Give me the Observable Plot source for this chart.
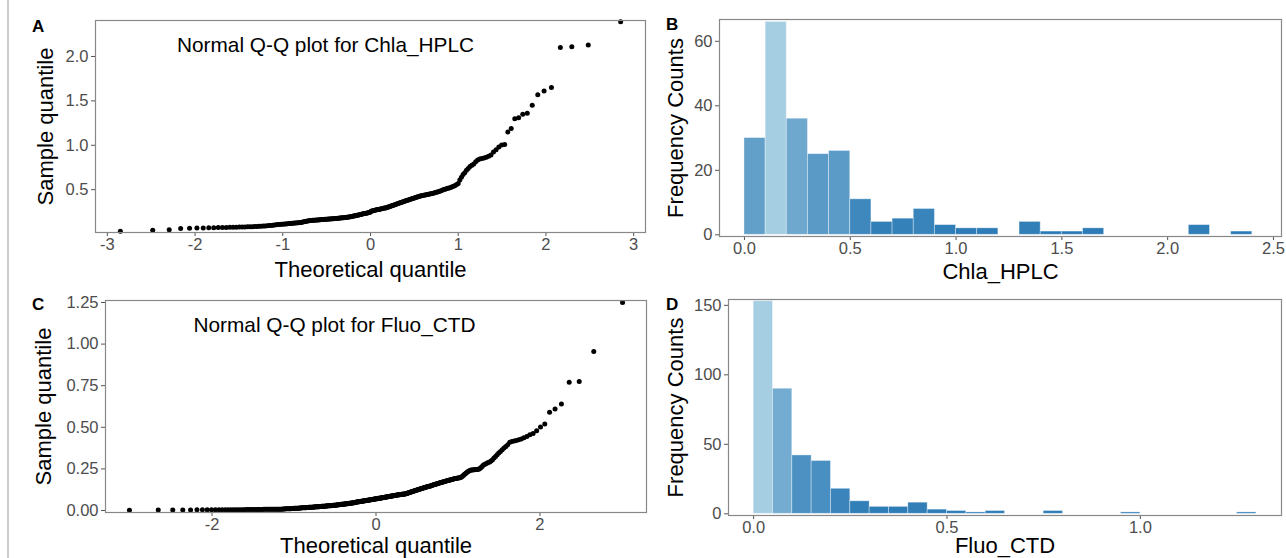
<!DOCTYPE html>
<html>
<head>
<meta charset="utf-8">
<script src="https://cdn.jsdelivr.net/npm/d3@7"></script>
<script src="https://cdn.jsdelivr.net/npm/@observablehq/plot@0.6"></script>
<style>
  html, body { margin: 0; padding: 0; background: #ffffff; }
  #root { position: relative; width: 1286px; height: 558px; overflow: hidden; background: #ffffff;
          font-family: "Liberation Sans", Arial, sans-serif; }
  .panel { position: absolute; }
  .tag { position: absolute; font-weight: bold; font-size: 17px; line-height: 17px; color: #000; }
  #edge { position: absolute; left: 7px; top: 0; width: 1.5px; height: 558px; background: #cccccc; }
  svg g[aria-label="x-axis tick label"], svg g[aria-label="y-axis tick label"],
  svg g[aria-label="x-axis tick label"] text, svg g[aria-label="y-axis tick label"] text { font-size: 16.5px !important; }
</style>
</head>
<body>
<div id="root">
  <div id="edge"></div>
  <div class="panel" id="pA" style="left:0px; top:0px;"></div>
  <div class="panel" id="pB" style="left:650px; top:0px;"></div>
  <div class="panel" id="pC" style="left:0px; top:279px;"></div>
  <div class="panel" id="pD" style="left:650px; top:279px;"></div>
  <div class="tag" style="left:32px; top:18px;">A</div>
  <div class="tag" style="left:666px; top:16px;">B</div>
  <div class="tag" style="left:32px; top:296px;">C</div>
  <div class="tag" style="left:666px; top:296px;">D</div>
</div>
<script>
// ---------------- DATA ----------------
// Sorted sample values of Chla_HPLC (n = 230)
const chlaHPLC = [
  0.033, 0.044, 0.048, 0.062, 0.065, 0.068, 0.070, 0.071, 0.072, 0.073,
  0.074, 0.075, 0.076, 0.077, 0.078, 0.079, 0.080, 0.081, 0.082, 0.083,
  0.084, 0.085, 0.086, 0.087, 0.088, 0.090, 0.092, 0.094, 0.096, 0.098,
  0.101, 0.103, 0.105, 0.107, 0.108, 0.110, 0.111, 0.113, 0.115, 0.117,
  0.118, 0.120, 0.121, 0.123, 0.124, 0.126, 0.127, 0.129, 0.130, 0.132,
  0.135, 0.138, 0.141, 0.144, 0.147, 0.150, 0.152, 0.154, 0.155, 0.156,
  0.157, 0.158, 0.159, 0.160, 0.161, 0.162, 0.163, 0.164, 0.165, 0.166,
  0.167, 0.168, 0.169, 0.170, 0.171, 0.172, 0.173, 0.174, 0.175, 0.176,
  0.177, 0.178, 0.179, 0.180, 0.181, 0.183, 0.184, 0.185, 0.186, 0.188,
  0.189, 0.191, 0.193, 0.194, 0.196, 0.198,
  0.201, 0.203, 0.206, 0.208, 0.211, 0.213, 0.216, 0.218, 0.221, 0.223,
  0.226, 0.228, 0.231, 0.233, 0.236, 0.238, 0.240, 0.243, 0.245,
  0.256, 0.259, 0.262, 0.265, 0.268, 0.271, 0.273, 0.276, 0.278, 0.280,
  0.283, 0.285, 0.288, 0.290, 0.293, 0.295, 0.298,
  0.301, 0.305, 0.309, 0.313, 0.317, 0.321, 0.325, 0.329, 0.333, 0.337,
  0.341, 0.345, 0.349, 0.353, 0.357, 0.361, 0.365, 0.369, 0.373, 0.377,
  0.381, 0.385, 0.389, 0.393, 0.397,
  0.401, 0.405, 0.409, 0.413, 0.417, 0.421, 0.425, 0.428, 0.431, 0.434,
  0.437, 0.440, 0.443, 0.446, 0.449, 0.452, 0.455, 0.458, 0.461, 0.465,
  0.469, 0.473, 0.477, 0.482, 0.488, 0.494,
  0.502, 0.506, 0.510, 0.515, 0.520, 0.526, 0.532, 0.540, 0.548, 0.558, 0.570,
  0.610, 0.640, 0.670, 0.690,
  0.720, 0.740, 0.760, 0.775, 0.790,
  0.815, 0.835, 0.845, 0.850, 0.858, 0.866, 0.876, 0.890,
  0.925, 0.950, 0.980,
  1.002, 1.010,
  1.150, 1.190,
  1.300, 1.310, 1.350, 1.360,
  1.450,
  1.570,
  1.610, 1.650,
  2.100, 2.110, 2.130,
  2.390
];

// Sorted sample values of Fluo_CTD (n = 380)
const fluoCTD = [
  0.002, 0.003, 0.003, 0.003, 0.003, 0.004, 0.004, 0.004, 0.004,
  0.004, 0.004, 0.004, 0.004, 0.005, 0.005, 0.005, 0.005, 0.005, 0.005,
  0.005, 0.005, 0.006, 0.006, 0.006, 0.006, 0.006,
  0.006, 0.006, 0.006, 0.006, 0.006, 0.006, 0.007, 0.007, 0.007, 0.007,
  0.007, 0.007, 0.007, 0.007, 0.008, 0.008, 0.008, 0.008, 0.008, 0.008,
  0.008, 0.008, 0.009, 0.009, 0.009, 0.010, 0.010, 0.010, 0.011, 0.011,
  0.011, 0.012, 0.012, 0.012, 0.013,
  0.013, 0.013, 0.014, 0.014, 0.014, 0.015, 0.015, 0.015, 0.016, 0.016,
  0.016, 0.017, 0.017, 0.017, 0.018, 0.018, 0.018, 0.019, 0.019, 0.019,
  0.020, 0.020, 0.020,
  0.021, 0.021, 0.021, 0.022, 0.022, 0.022, 0.023, 0.023, 0.023, 0.024,
  0.024, 0.024, 0.025, 0.025, 0.025, 0.026, 0.026, 0.026, 0.027, 0.027,
  0.027, 0.028, 0.028, 0.028, 0.029, 0.029, 0.029, 0.030, 0.030, 0.030,
  0.031, 0.031, 0.031, 0.032,
  0.032, 0.033, 0.033, 0.034, 0.034, 0.035, 0.035, 0.036, 0.036, 0.037,
  0.037, 0.038, 0.038, 0.038, 0.039, 0.039, 0.039, 0.040, 0.040,
  0.041, 0.041, 0.042, 0.042, 0.043, 0.043, 0.044, 0.044, 0.045, 0.045,
  0.046, 0.046, 0.047, 0.047, 0.048, 0.049,
  0.050, 0.051, 0.051, 0.052, 0.052, 0.053, 0.053, 0.054, 0.054, 0.055,
  0.055, 0.056, 0.056, 0.057, 0.058, 0.058, 0.059, 0.059, 0.060, 0.060,
  0.061, 0.061, 0.062, 0.062, 0.063, 0.064, 0.064, 0.065, 0.065, 0.066,
  0.066, 0.067, 0.067, 0.068, 0.069, 0.069, 0.070, 0.070, 0.071, 0.071,
  0.072, 0.073, 0.073, 0.074, 0.074, 0.075, 0.075, 0.076, 0.077, 0.077,
  0.078, 0.078, 0.079, 0.080, 0.080, 0.081, 0.081, 0.082, 0.083, 0.083,
  0.084, 0.084, 0.085, 0.086, 0.086, 0.087, 0.087, 0.088, 0.089, 0.089,
  0.090, 0.090, 0.091, 0.092, 0.092, 0.093, 0.093, 0.094, 0.094, 0.095,
  0.095, 0.096, 0.096, 0.097, 0.097, 0.098, 0.098, 0.099, 0.099, 0.099,
  0.101, 0.101, 0.102, 0.104, 0.105, 0.106, 0.107, 0.108, 0.110, 0.111,
  0.112, 0.113, 0.114, 0.116, 0.117, 0.118, 0.119, 0.120, 0.122, 0.123,
  0.124, 0.125, 0.126, 0.128, 0.129, 0.130, 0.131, 0.132, 0.134, 0.135,
  0.136, 0.137, 0.138, 0.140, 0.141, 0.142, 0.143, 0.144, 0.145, 0.146,
  0.147, 0.149,
  0.151, 0.152, 0.153, 0.155, 0.156, 0.157, 0.159, 0.160, 0.161, 0.163,
  0.164, 0.165, 0.167, 0.168, 0.169, 0.171, 0.172, 0.173, 0.175, 0.176,
  0.177, 0.179, 0.180, 0.181, 0.183, 0.184, 0.185, 0.187, 0.188, 0.189,
  0.191, 0.192, 0.193, 0.194, 0.195, 0.196, 0.197, 0.199,
  0.201, 0.206, 0.211, 0.216, 0.221, 0.226, 0.231, 0.235, 0.239, 0.242,
  0.243, 0.244, 0.245, 0.245, 0.246, 0.247, 0.248, 0.249,
  0.255, 0.262, 0.270, 0.276, 0.280, 0.284, 0.288, 0.292, 0.297,
  0.305, 0.315, 0.325, 0.335, 0.345,
  0.355, 0.365, 0.375, 0.385, 0.395,
  0.410, 0.415, 0.418, 0.421, 0.425, 0.430, 0.437, 0.445,
  0.455, 0.462, 0.480,
  0.502, 0.520,
  0.590,
  0.610, 0.640,
  0.770, 0.775,
  0.955,
  1.250
];

// Histogram bin edges
const binsChla = [0, 0.1, 0.2, 0.3, 0.4, 0.5, 0.6, 0.7, 0.8, 0.9, 1.0, 1.1, 1.2, 1.3, 1.4, 1.5,
                  1.6, 1.7, 1.8, 1.9, 2.0, 2.1, 2.2, 2.3, 2.4];
const binsFluo = [0, 0.05, 0.1, 0.15, 0.2, 0.25, 0.3, 0.35, 0.4, 0.45, 0.5, 0.55, 0.6, 0.65, 0.7,
                  0.75, 0.8, 0.85, 0.9, 0.95, 1.0, 1.05, 1.1, 1.15, 1.2, 1.25, 1.3];

// Tick values
const ticksQQA_x = [-3, -2, -1, 0, 1, 2, 3];
const ticksQQA_y = [0.5, 1.0, 1.5, 2.0];
const ticksQQC_x = [-2, 0, 2];
const ticksQQC_y = [0, 0.25, 0.5, 0.75, 1.0, 1.25];
const ticksHistB_x = [0, 0.5, 1.0, 1.5, 2.0, 2.5];
const ticksHistB_y = [0, 20, 40, 60];
const ticksHistD_x = [0, 0.5, 1.0];
const ticksHistD_y = [0, 50, 100, 150];

// Text
const titleA = "Normal Q-Q plot for Chla_HPLC";
const titleC = "Normal Q-Q plot for Fluo_CTD";
const qqXLabel = "Theoretical quantile";
const qqYLabel = "Sample quantile";
const histYLabel = "Frequency Counts";

// ---------------- helpers ----------------
// Inverse standard normal CDF (Acklam) for theoretical quantiles
function qnorm(p) {
  const a = [-3.969683028665376e+01, 2.209460984245205e+02, -2.759285104469687e+02, 1.383577518672690e+02, -3.066479806614716e+01, 2.506628277459239e+00];
  const b = [-5.447609879822406e+01, 1.615858368580409e+02, -1.556989798598866e+02, 6.680131188771972e+01, -1.328068155288572e+01];
  const c = [-7.784894002430293e-03, -3.223964580411365e-01, -2.400758277161838e+00, -2.549732539343734e+00, 4.374664141464968e+00, 2.938163982698783e+00];
  const d = [7.784695709041462e-03, 3.224671290700398e-01, 2.445134137142996e+00, 3.754408661907416e+00];
  const pl = 0.02425, ph = 1 - pl;
  let q, r;
  if (p < pl) {
    q = Math.sqrt(-2 * Math.log(p));
    return (((((c[0]*q+c[1])*q+c[2])*q+c[3])*q+c[4])*q+c[5]) / ((((d[0]*q+d[1])*q+d[2])*q+d[3])*q+1);
  }
  if (p > ph) {
    q = Math.sqrt(-2 * Math.log(1 - p));
    return -(((((c[0]*q+c[1])*q+c[2])*q+c[3])*q+c[4])*q+c[5]) / ((((d[0]*q+d[1])*q+d[2])*q+d[3])*q+1);
  }
  q = p - 0.5; r = q * q;
  return (((((a[0]*r+a[1])*r+a[2])*r+a[3])*r+a[4])*r+a[5])*q / (((((b[0]*r+b[1])*r+b[2])*r+b[3])*r+b[4])*r+1);
}
const qqTable = (vals) => vals.map((v, i) => ({theo: qnorm((i + 0.5) / vals.length), sample: v}));

const FONT = '"Liberation Sans", Arial, sans-serif';
const TICK_FS = 16.5, TITLE_FS = 22, ANNOT_FS = 20.8;
const TICK_TEXT = "#4d4d4d", TICK_LINE = "#555555", FRAME = "#888888";
const DARK = "#2c7bb6", LIGHT = "#a6cee3";

function axes(xt, yt, xfmt, yfmt) {
  return [
    Plot.axisX({ticks: xt, tickFormat: xfmt, tickSize: 4, tickPadding: 2, fontSize: TICK_FS,
                label: null, stroke: TICK_LINE, fill: TICK_TEXT}),
    Plot.axisY({ticks: yt, tickFormat: yfmt, tickSize: 4, tickPadding: 3, fontSize: TICK_FS,
                label: null, stroke: TICK_LINE, fill: TICK_TEXT})
  ];
}
const intFmt = d => String(d);
const plotStyle = {fontFamily: FONT, fontSize: TICK_FS + "px", background: "transparent", overflow: "visible"};

function qqPanel(vals, o) {
  return Plot.plot({
    width: o.width, height: o.height,
    marginLeft: o.ml, marginRight: o.mr, marginTop: o.mt, marginBottom: o.mb,
    style: plotStyle,
    x: {domain: o.xdom},
    y: {domain: o.ydom},
    marks: [
      ...axes(o.xt, o.yt, intFmt, o.yfmt),
      Plot.dot(qqTable(vals), {x: "theo", y: "sample", r: 2.5, fill: "#000000", stroke: "none"}),
      Plot.text([o.title], {frameAnchor: "top", lineAnchor: "middle", textAnchor: "middle",
                            dx: o.tdx, dy: 25, fontSize: ANNOT_FS, fill: "#000"}),
      Plot.text([qqXLabel], {frameAnchor: "bottom", lineAnchor: "middle", textAnchor: "middle",
                             dy: o.xldy, fontSize: TITLE_FS, fill: "#000"}),
      Plot.text([qqYLabel], {frameAnchor: "left", lineAnchor: "middle", textAnchor: "middle",
                             dx: o.ydx, rotate: -90, fontSize: TITLE_FS, fill: "#000"}),
      Plot.frame({stroke: FRAME, strokeWidth: 1.2})
    ]
  });
}

function histPanel(vals, o) {
  return Plot.plot({
    width: o.width, height: o.height,
    marginLeft: o.ml, marginRight: o.mr, marginTop: o.mt, marginBottom: o.mb,
    style: plotStyle,
    x: {domain: o.xdom},
    y: {domain: o.ydom},
    color: {type: "linear", range: [DARK, LIGHT], interpolate: "rgb"},
    marks: [
      ...axes(o.xt, o.yt, d3.format(".1f"), intFmt),
      Plot.rectY(vals, Plot.binX({y: "count", fill: "count"},
        {x: d => d, thresholds: o.bins, domain: [o.bins[0], o.bins[o.bins.length - 1]],
         inset: 0, stroke: "#ffffff", strokeOpacity: 0.45, strokeWidth: 0.8})),
      Plot.text([o.xlabel], {frameAnchor: "bottom", lineAnchor: "middle", textAnchor: "middle",
                             dy: o.xldy, fontSize: TITLE_FS, fill: "#000"}),
      Plot.text([histYLabel], {frameAnchor: "left", lineAnchor: "middle", textAnchor: "middle",
                               dx: o.ydx, rotate: -90, fontSize: TITLE_FS, fill: "#000"}),
      Plot.frame({stroke: FRAME, strokeWidth: 1.2})
    ]
  });
}

document.getElementById("pA").append(qqPanel(chlaHPLC, {
  width: 650, height: 279, ml: 95, mr: 5, mt: 20, mb: 47,
  xdom: [-3.135, 3.135], ydom: [0.018, 2.405],
  xt: ticksQQA_x, yt: ticksQQA_y, yfmt: d3.format(".1f"),
  title: titleA, tdx: -45, ydx: -50, xldy: 37
}));

document.getElementById("pC").append(qqPanel(fluoCTD, {
  width: 650, height: 279, ml: 105, mr: 4, mt: 21, mb: 46,
  xdom: [-3.3, 3.3], ydom: [-0.012, 1.262],
  xt: ticksQQC_x, yt: ticksQQC_y, yfmt: d3.format(".2f"),
  title: titleC, tdx: -41.5, ydx: -62, xldy: 33.5
}));

document.getElementById("pB").append(histPanel(chlaHPLC, {
  width: 636, height: 279, ml: 69, mr: 5, mt: 19, mb: 43,
  xdom: [-0.118, 2.538], ydom: [-0.53, 66.76],
  xt: ticksHistB_x, yt: ticksHistB_y, bins: binsChla,
  xlabel: "Chla_HPLC", ydx: -44, xldy: 35
}));

document.getElementById("pD").append(histPanel(fluoCTD, {
  width: 636, height: 279, ml: 78, mr: 5, mt: 20, mb: 43,
  xdom: [-0.065, 1.365], ydom: [-1.22, 154.2],
  xt: ticksHistD_x, yt: ticksHistD_y, bins: binsFluo,
  xlabel: "Fluo_CTD", ydx: -53, xldy: 30
}));
</script>
</body>
</html>
